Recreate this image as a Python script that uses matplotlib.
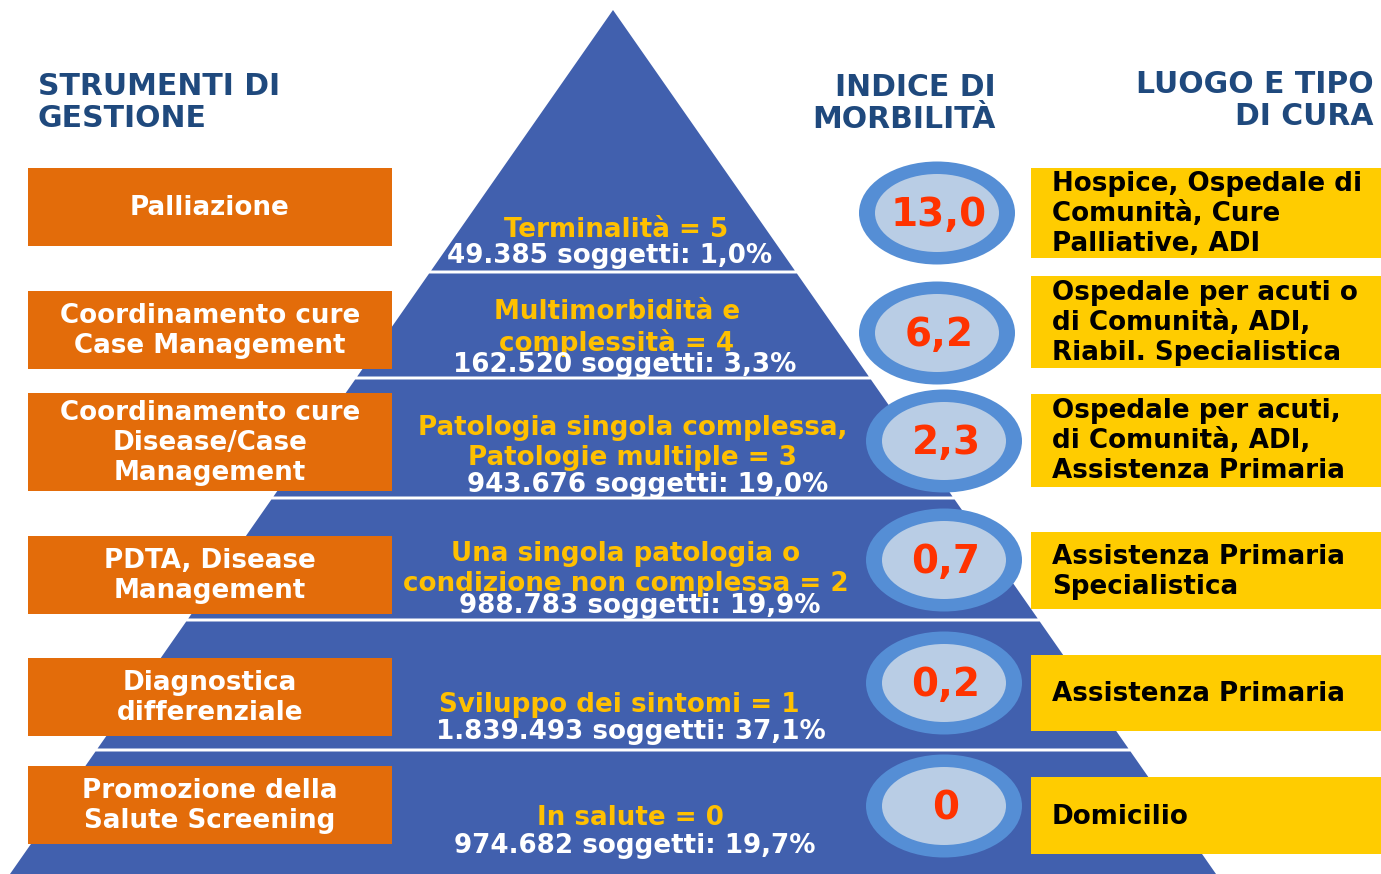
import matplotlib.pyplot as plt
from matplotlib.patches import Polygon, Rectangle, Ellipse

# data: pyramid levels from top (terminal) to bottom (healthy)
livelli = ["Terminalità = 5", "Multimorbidità e\ncomplessità = 4",
           "Patologia singola complessa,\nPatologie multiple = 3",
           "Una singola patologia o\ncondizione non complessa = 2",
           "Sviluppo dei sintomi = 1", "In salute = 0"]
soggetti = ["49.385", "162.520", "943.676", "988.783", "1.839.493", "974.682"]
percentuali = ["1,0%", "3,3%", "19,0%", "19,9%", "37,1%", "19,7%"]
indice = ["13,0", "6,2", "2,3", "0,7", "0,2", "0"]
strumenti = ["Palliazione", "Coordinamento cure\nCase Management",
             "Coordinamento cure\nDisease/Case\nManagement",
             "PDTA, Disease\nManagement", "Diagnostica\ndifferenziale",
             "Promozione della\nSalute Screening"]
luoghi = ["Hospice, Ospedale di\nComunità, Cure\nPalliative, ADI",
          "Ospedale per acuti o\ndi Comunità, ADI,\nRiabil. Specialistica",
          "Ospedale per acuti,\ndi Comunità, ADI,\nAssistenza Primaria",
          "Assistenza Primaria\nSpecialistica", "Assistenza Primaria", "Domicilio"]

# layout (pixel coordinates)
W, H = 1381, 874
apex = (613, 10)
base_l, base_r = 10, 1216
band_y = [10, 272, 378, 498, 620, 750, 874]
orange_y = [(168, 246), (291, 369), (393, 491), (536, 614), (658, 736), (766, 844)]
yellow_y = [(168, 258), (276, 368), (394, 487), (532, 609), (655, 731), (777, 854)]
ell_c = [(937, 213), (937, 333), (944, 441), (944, 560), (944, 683), (944, 806)]
lab_y = [230, 328, 443, 569, 705, 818]
cnt_y = [256, 365, 485, 606, 732, 846]
lab_x = [616, 617, 633, 626, 619, 630]
cnt_x = [610, 625, 648, 640, 631, 635]

BLUE = "#4160AE"
ORANGE = "#E36C0A"
YELLOW = "#FFCC00"
NAVY = "#1F497D"
GOLD = "#FFC000"
FS = 18.8

fig = plt.figure(figsize=(W / 100, H / 100), dpi=100)
ax = fig.add_axes([0, 0, 1, 1])
ax.set_xlim(0, W)
ax.set_ylim(H, 0)
ax.axis("off")


def edge_x(y):
    t = (y - apex[1]) / (H - apex[1])
    return apex[0] + t * (base_l - apex[0]), apex[0] + t * (base_r - apex[0])


# pyramid bands
for i in range(6):
    y0, y1 = band_y[i], band_y[i + 1]
    y0g = y0 + (1.5 if i > 0 else 0)
    y1g = y1 - (1.5 if i < 5 else 0)
    l0, r0 = edge_x(y0g)
    l1, r1 = edge_x(y1g)
    ax.add_patch(Polygon([(l0, y0g), (r0, y0g), (r1, y1g), (l1, y1g)],
                         closed=True, fc=BLUE, ec="none", zorder=1))

# headers
hdr = dict(color=NAVY, fontsize=21.5, fontweight="bold", va="top", linespacing=1.12)
ax.text(38, 72, "STRUMENTI DI\nGESTIONE", ha="left", **hdr)
ax.text(996, 73, "INDICE DI\nMORBILITÀ", ha="right", multialignment="right", **hdr)
ax.text(1374, 70, "LUOGO E TIPO\nDI CURA", ha="right", multialignment="right", **hdr)

for i in range(6):
    # orange tool boxes
    y0, y1 = orange_y[i]
    ax.add_patch(Rectangle((28, y0), 364, y1 - y0, fc=ORANGE, ec="none", zorder=3))
    ax.text(210, (y0 + y1) / 2 + 1, strumenti[i], ha="center", va="center",
            color="white", fontsize=FS, fontweight="bold", linespacing=1.2, zorder=4)

    # yellow place boxes
    y0, y1 = yellow_y[i]
    ax.add_patch(Rectangle((1031, y0), 360, y1 - y0, fc=YELLOW, ec="none", zorder=3))
    ax.text(1052, (y0 + y1) / 2 + 1, luoghi[i], ha="left", va="center",
            color="black", fontsize=FS, fontweight="bold", linespacing=1.2, zorder=4)

    # morbidity ellipses
    cx, cy = ell_c[i]
    ax.add_patch(Ellipse((cx, cy), 156, 103, fc="#558ED5", ec="none", zorder=3))
    ax.add_patch(Ellipse((cx, cy), 124, 78, fc="#B9CDE5", ec="none", zorder=4))
    ax.text(cx + 2, cy + 2, indice[i], ha="center", va="center", color="#FF3300",
            fontsize=28, fontweight="bold", zorder=5)

    # pyramid labels
    ax.text(lab_x[i], lab_y[i], livelli[i], ha="center", va="center", color=GOLD,
            fontsize=FS, fontweight="bold", linespacing=1.2, zorder=2)
    ax.text(cnt_x[i], cnt_y[i], f"{soggetti[i]} soggetti: {percentuali[i]}",
            ha="center", va="center", color="white", fontsize=FS,
            fontweight="bold", zorder=2)

fig.savefig("out.png", dpi=100)
